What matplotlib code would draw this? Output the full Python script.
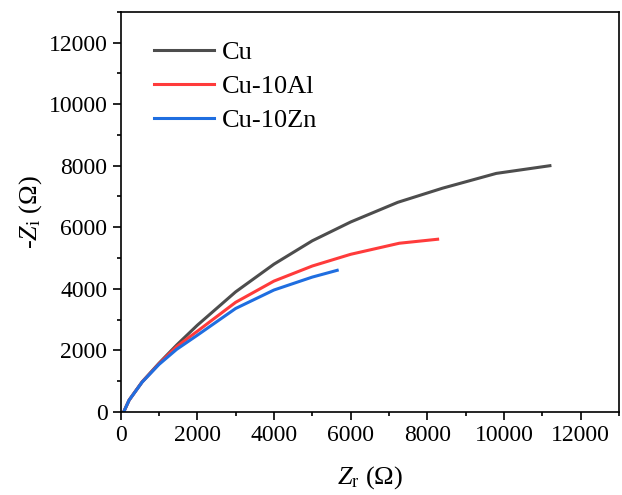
import matplotlib
matplotlib.use('Agg')
import matplotlib.pyplot as plt
from matplotlib.ticker import MultipleLocator

plt.rcParams['font.family'] = 'Liberation Serif'
plt.rcParams['mathtext.fontset'] = 'custom'
plt.rcParams['mathtext.rm'] = 'Liberation Serif'
plt.rcParams['mathtext.it'] = 'Liberation Serif:italic'

# Nyquist data
cu_x = [80, 220, 560, 1000, 1460, 2000, 3000, 4000, 5000, 6000, 7230, 8400, 9800, 11200]
cu_y = [0, 380, 975, 1580, 2170, 2815, 3900, 4800, 5560, 6170, 6810, 7270, 7750, 8000]
al_x = [80, 220, 560, 1000, 1460, 2000, 3000, 4000, 5000, 6000, 7270, 8270]
al_y = [0, 380, 970, 1560, 2120, 2620, 3560, 4250, 4740, 5120, 5480, 5610]
zn_x = [80, 220, 560, 1000, 1460, 2000, 3000, 4000, 5000, 5650]
zn_y = [0, 380, 965, 1540, 2030, 2490, 3360, 3960, 4380, 4600]

fig = plt.figure(figsize=(6.22, 4.95), dpi=100)
ax = fig.add_axes([0.194, 0.168, 0.801, 0.808])

ax.plot(cu_x, cu_y, color='#4d4d4d', lw=2.2, label='Cu')
ax.plot(al_x, al_y, color='#ff3b3b', lw=2.2, label='Cu-10Al')
ax.plot(zn_x, zn_y, color='#1f6ee0', lw=2.2, label='Cu-10Zn')

ax.set_xlim(0, 13000)
ax.set_ylim(0, 13000)
ax.xaxis.set_major_locator(MultipleLocator(2000))
ax.xaxis.set_minor_locator(MultipleLocator(1000))
ax.yaxis.set_major_locator(MultipleLocator(2000))
ax.yaxis.set_minor_locator(MultipleLocator(1000))
ax.tick_params(which='major', direction='out', length=6, width=1.2, labelsize=17)
ax.tick_params(which='minor', direction='out', length=3, width=1.2)
for s in ax.spines.values():
    s.set_linewidth(1.2)

ax.set_xlabel(r'$Z_{\mathrm{r}}$ ($\Omega$)', fontsize=19, labelpad=13)
ax.set_ylabel(r'-$Z_{\mathrm{i}}$ ($\Omega$)', fontsize=19, labelpad=3)

ax.legend(loc='upper left', frameon=False, fontsize=19, handlelength=2.3,
          handletextpad=0.3, labelspacing=0.4, borderaxespad=0,
          bbox_to_anchor=(0.045, 0.955))

fig.savefig('out.png', dpi=100)
